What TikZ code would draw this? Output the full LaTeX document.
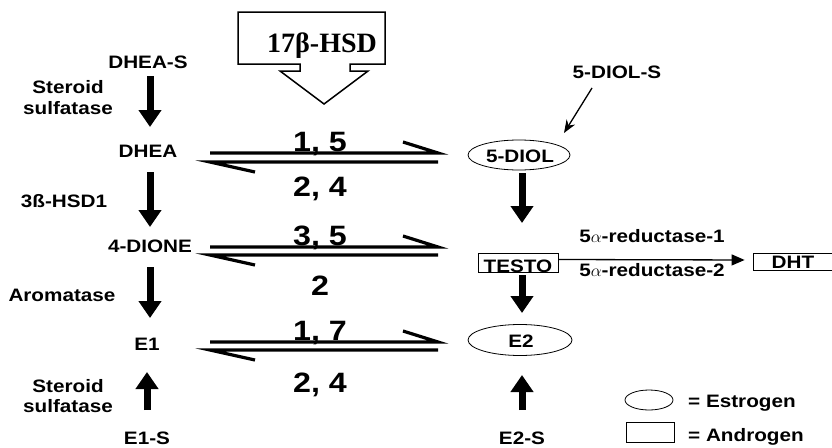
\documentclass[tikz,border=0pt]{standalone}
\usepackage{fontspec}
\setmainfont{Liberation Sans}[FakeStretch=1.15]
\newfontfamily\hsdfont{Liberation Serif}
\usetikzlibrary{arrows.meta,shapes.geometric}
\begin{document}
\begin{tikzpicture}[x=1pt,y=-1pt,
  lbl/.style={font=\bfseries\fontsize{18}{21}\selectfont, inner sep=0pt, anchor=base},
  num/.style={font=\bfseries\fontsize{28}{30}\selectfont, inner sep=0pt, anchor=base},
  bigarrow/.style={line width=7pt, -{Triangle[width=22pt,length=17pt]}},
  thinarrow/.style={line width=1.3pt, -{Stealth[width=10pt,length=13pt]}},
  rail/.style={line width=3.2pt, line join=miter},
  outl/.style={line width=0.8pt},
  boxnode/.style={draw, rectangle, line width=0.8pt, inner sep=0pt},
  ellnode/.style={draw, ellipse, line width=0.8pt, inner sep=0pt},
]
\useasboundingbox (0,0) rectangle (832,447);

% 17beta-HSD block arrow
\draw[line width=1.5pt] (238,12) -- (385,12) -- (385,64) -- (350,64) -- (350,71) -- (368,71)
  -- (324,104) -- (280,71) -- (300,71) -- (300,64) -- (238,64) -- cycle;
\node[font=\hsdfont\bfseries\fontsize{28}{30}\selectfont, inner sep=0pt, anchor=base] (hsd) at (322,52) {17β-HSD};

% left column
\node[lbl] (dheas) at (148,68) {DHEA-S};
\node[lbl] (ss1a) at (68,93) {Steroid};
\node[lbl] (ss1b) at (68,114) {sulfatase};
\node[lbl] (dhea) at (148,157) {DHEA};
\node[lbl] (hsd1) at (64,207) {3ß-HSD1};
\node[lbl] (dione) at (150,252) {4-DIONE};
\node[lbl] (arom) at (62,301) {Aromatase};
\node[lbl] (e1) at (147,350) {E1};
\node[lbl] (ss2a) at (68,392) {Steroid};
\node[lbl] (ss2b) at (68,412) {sulfatase};
\node[lbl] (e1s) at (147,444) {E1-S};

\draw[bigarrow] (dheas.base) ++(2,8) -- ++(0,51);
\draw[bigarrow] (dhea.base) ++(2,15) -- ++(0,55);
\draw[bigarrow] (dione.base) ++(0,15) -- ++(0,51);
\draw[bigarrow] (e1s.base) ++(0,-34) -- ++(0,-38);

% reversible reactions
\coordinate (a1l) at (210,153); \coordinate (a1r) at (438,153);
\coordinate (b1l) at (210,162); \coordinate (b1r) at (438,162);
\coordinate (a2l) at (210,247); \coordinate (a2r) at (438,247);
\coordinate (b2l) at (210,255); \coordinate (b2r) at (438,255);
\coordinate (a3l) at (210,342); \coordinate (a3r) at (438,342);
\coordinate (b3l) at (210,350); \coordinate (b3r) at (438,350);
\foreach \i in {1,2,3}{
  \draw[rail] (a\i l) -- (a\i r) -- ++(-35,-11);
  \draw[rail] (b\i r) -- (b\i l) -- ++(45,10);
}
\node[num] (n1) at (320,151) {1, 5};
\node[num] (n2) at (320,196) {2, 4};
\node[num] (n3) at (320,245) {3, 5};
\node[num] (n4) at (320,295) {2};
\node[num] (n5) at (320,340) {1, 7};
\node[num] (n6) at (320,392) {2, 4};

% right column
\node[lbl] (diols) at (617,78) {5-DIOL-S};
\draw[outl] (519,155) ellipse [x radius=51pt, y radius=15pt];
\node[lbl] (diol) at (520,162) {5-DIOL};
\draw[thinarrow] (diols.base) ++(-25,10) -- ++(-28,45);
\draw[bigarrow] (diol.base) ++(2,11) -- ++(0,50);

\node[boxnode, font=\bfseries\fontsize{18}{21}\selectfont, minimum width=80pt,
  text height=19pt, text depth=0pt, anchor=base] (testo) at (518,272) {TESTO};
\node[boxnode, font=\bfseries\fontsize{18}{21}\selectfont, minimum width=80pt,
  text height=15pt, text depth=2pt, anchor=base] (dht) at (793,268) {DHT};
\draw[line width=1.3pt, -{Triangle[width=11pt,length=13pt]}, shorten >=8pt]
  ([yshift=3pt]testo.east) -- ([yshift=1.5pt]dht.west);
\node[lbl] (red1) at (652,242) {5$\alpha$-reductase-1};
\node[lbl] (red2) at (652,276) {5$\alpha$-reductase-2};

\draw[bigarrow] (testo.base) ++(4,3) -- ++(0,38);
\draw[outl] (520,340) ellipse [x radius=52pt, y radius=15.5pt];
\node[lbl] (e2) at (521,347) {E2};
\node[lbl] (e2s) at (522,444) {E2-S};
\draw[bigarrow] (e2s.base) ++(0,-34) -- ++(0,-35);

% legend
\node[ellnode, minimum width=48pt, minimum height=20pt] (legest) at (649,400) {};
\node[lbl, anchor=base west] (estro) at (688,407) {= Estrogen};
\node[boxnode, minimum width=48pt, minimum height=20pt] (legand) at (650,432) {};
\node[lbl, anchor=base west] (andro) at (688,441) {= Androgen};
\end{tikzpicture}
\end{document}
